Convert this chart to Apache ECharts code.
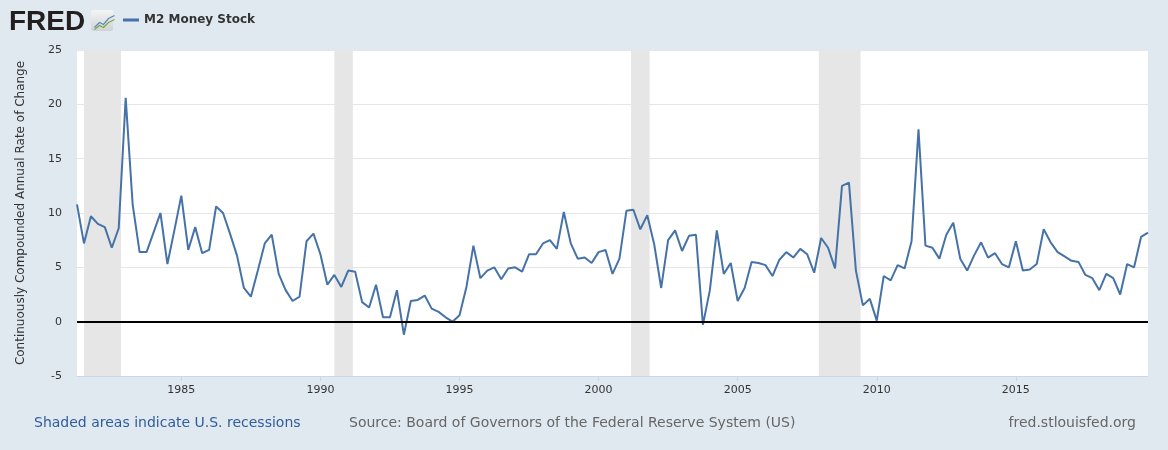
<!DOCTYPE html>
<html>
<head>
<meta charset="utf-8">
<title>M2 Money Stock</title>
<script src="https://cdn.jsdelivr.net/npm/echarts@6/dist/echarts.min.js"></script>
<style>
  html, body { margin: 0; padding: 0; background: #e1e9f0; }
  #chart { width: 1168px; height: 450px; }
</style>
</head>
<body>
<div id="chart"></div>
<script>
// M2 growth, continuously compounded annual rate of change, quarterly
// first value is 1981 Q2, last is 2019 Q4
const firstQuarter = 1981.25
const m2Growth = [
  10.8, 7.2, 9.7,
  9.0, 8.7, 6.8, 8.6,      // 1982
  20.6, 10.8, 6.4, 6.4,    // 1983
  8.2, 10.0, 5.3, 8.4,     // 1984
  11.6, 6.6, 8.7, 6.3,     // 1985
  6.6, 10.6, 10.0, 8.1,    // 1986
  6.1, 3.1, 2.3, 4.7,      // 1987
  7.2, 8.0, 4.4, 2.9,      // 1988
  1.9, 2.3, 7.4, 8.1,      // 1989
  6.2, 3.4, 4.3, 3.2,      // 1990
  4.7, 4.6, 1.8, 1.3,      // 1991
  3.4, 0.4, 0.4, 2.9,      // 1992
  -1.2, 1.9, 2.0, 2.4,     // 1993
  1.2, 0.9, 0.4, 0.0,      // 1994
  0.6, 3.2, 7.0, 4.0,      // 1995
  4.7, 5.0, 3.9, 4.9,      // 1996
  5.0, 4.6, 6.2, 6.2,      // 1997
  7.2, 7.5, 6.7, 10.1,     // 1998
  7.2, 5.8, 5.9, 5.4,      // 1999
  6.4, 6.6, 4.4, 5.8,      // 2000
  10.2, 10.3, 8.5, 9.8,    // 2001
  7.1, 3.1, 7.5, 8.4,      // 2002
  6.5, 7.9, 8.0, -0.3,     // 2003
  2.9, 8.4, 4.4, 5.4,      // 2004
  1.9, 3.1, 5.5, 5.4,      // 2005
  5.2, 4.2, 5.7, 6.4,      // 2006
  5.9, 6.7, 6.2, 4.5,      // 2007
  7.7, 6.8, 4.9, 12.5,     // 2008
  12.8, 4.7, 1.5, 2.1,     // 2009
  0.1, 4.2, 3.8, 5.2,      // 2010
  4.9, 7.4, 17.7, 7.0,     // 2011
  6.8, 5.8, 8.0, 9.1,      // 2012
  5.8, 4.7, 6.1, 7.3,      // 2013
  5.9, 6.3, 5.3, 5.0,      // 2014
  7.4, 4.7, 4.8, 5.3,      // 2015
  8.5, 7.3, 6.4, 6.0,      // 2016
  5.6, 5.5, 4.3, 4.0,      // 2017
  2.9, 4.4, 4.0, 2.5,      // 2018
  5.3, 5.0, 7.8, 8.2       // 2019
]

// NBER recessions (month of peak / trough)
const recessionStart = ['1981-07', '1990-07', '2001-03', '2007-12']
const recessionEnd = ['1982-11', '1991-03', '2001-11', '2009-06']

const yearTicks = [1985, 1990, 1995, 2000, 2005, 2010, 2015]
const yTicks = [-5, 25, 5] // min, max, step

const toYear = s => {
  const [y, m] = s.split('-').map(Number)
  return y + (m - 1) / 12
}

const seriesData = m2Growth.map((v, i) => [firstQuarter + i * 0.25, v])
const lastQuarter = firstQuarter + (m2Growth.length - 1) * 0.25

const font = '"DejaVu Sans", Verdana, sans-serif'
const logoFont = '"Liberation Sans", Arial, sans-serif'

const chart = echarts.init(document.getElementById('chart'), null, { renderer: 'canvas' })

chart.setOption({
  animation: false,
  backgroundColor: '#e1e9f0',
  textStyle: { fontFamily: font },
  grid: {
    left: 77,
    right: 20,
    top: 50,
    bottom: 74,
    show: true,
    backgroundColor: '#ffffff',
    borderWidth: 0
  },
  legend: {
    left: 118,
    top: 9,
    icon: 'rect',
    itemWidth: 16,
    itemHeight: 3,
    itemGap: 6,
    textStyle: { color: '#333333', fontSize: 12, fontWeight: 'bold', fontFamily: font },
    data: ['M2 Money Stock']
  },
  xAxis: {
    type: 'value',
    min: firstQuarter,
    max: lastQuarter,
    splitLine: { show: false },
    axisLine: { onZero: false, lineStyle: { color: '#ccd6eb', width: 1 } },
    axisTick: { customValues: yearTicks, length: 5, lineStyle: { color: '#ccd6eb' } },
    axisLabel: {
      customValues: yearTicks,
      formatter: v => String(v),
      color: '#333333',
      fontSize: 11,
      margin: 9
    }
  },
  yAxis: {
    type: 'value',
    min: yTicks[0],
    max: yTicks[1],
    interval: yTicks[2],
    name: 'Continuously Compounded Annual Rate of Change',
    nameLocation: 'middle',
    nameGap: 50,
    nameTextStyle: { color: '#333333', fontSize: 12, fontFamily: font },
    axisLine: { show: false },
    axisTick: { show: false },
    axisLabel: { color: '#333333', fontSize: 11, margin: 15 },
    splitLine: { lineStyle: { color: '#e6e6e6', width: 1 } }
  },
  series: [
    {
      name: 'M2 Money Stock',
      type: 'line',
      data: seriesData,
      showSymbol: false,
      color: '#4572a7',
      lineStyle: { color: '#4572a7', width: 2 },
      markArea: {
        silent: true,
        itemStyle: { color: '#e6e6e6' },
        data: recessionStart.map((s, i) => [{ xAxis: toYear(s) }, { xAxis: toYear(recessionEnd[i]) }])
      },
      markLine: {
        silent: true,
        symbol: 'none',
        label: { show: false },
        lineStyle: { color: '#000000', width: 2, type: 'solid' },
        data: [{ yAxis: 0 }]
      },
      z: 3
    }
  ],
  graphic: [
    // FRED logo
    {
      type: 'text',
      left: 9,
      top: 8,
      style: { text: 'FRED', fill: '#231f20', font: 'bold 28px ' + logoFont }
    },
    // small chart icon next to the logo
    {
      type: 'rect',
      left: 91,
      top: 10,
      shape: { width: 22, height: 21, r: 2 },
      style: {
        fill: new echarts.graphic.LinearGradient(0, 0, 0, 1, [
          { offset: 0, color: '#f4f4f4' },
          { offset: 1, color: '#cfd3d6' }
        ])
      }
    },
    {
      type: 'polyline',
      left: 92,
      top: 13,
      shape: { points: [[0, 12], [5, 7], [9, 9], [14, 3], [20, 0]] },
      style: { stroke: '#5b87bd', lineWidth: 1.2, fill: null }
    },
    {
      type: 'polyline',
      left: 92,
      top: 17,
      shape: { points: [[0, 11], [5, 7], [9, 9], [14, 4], [20, 1]] },
      style: { stroke: '#7aa642', lineWidth: 1.2, fill: null }
    },
    // footer
    {
      type: 'text',
      left: 34,
      top: 416,
      style: { text: 'Shaded areas indicate U.S. recessions', fill: '#2f5c9c', font: '14px ' + font }
    },
    {
      type: 'text',
      left: 349,
      top: 416,
      style: { text: 'Source: Board of Governors of the Federal Reserve System (US)', fill: '#666666', font: '14px ' + font }
    },
    {
      type: 'text',
      right: 32,
      top: 416,
      style: { text: 'fred.stlouisfed.org', fill: '#666666', font: '14px ' + font }
    }
  ]
})
</script>
</body>
</html>
